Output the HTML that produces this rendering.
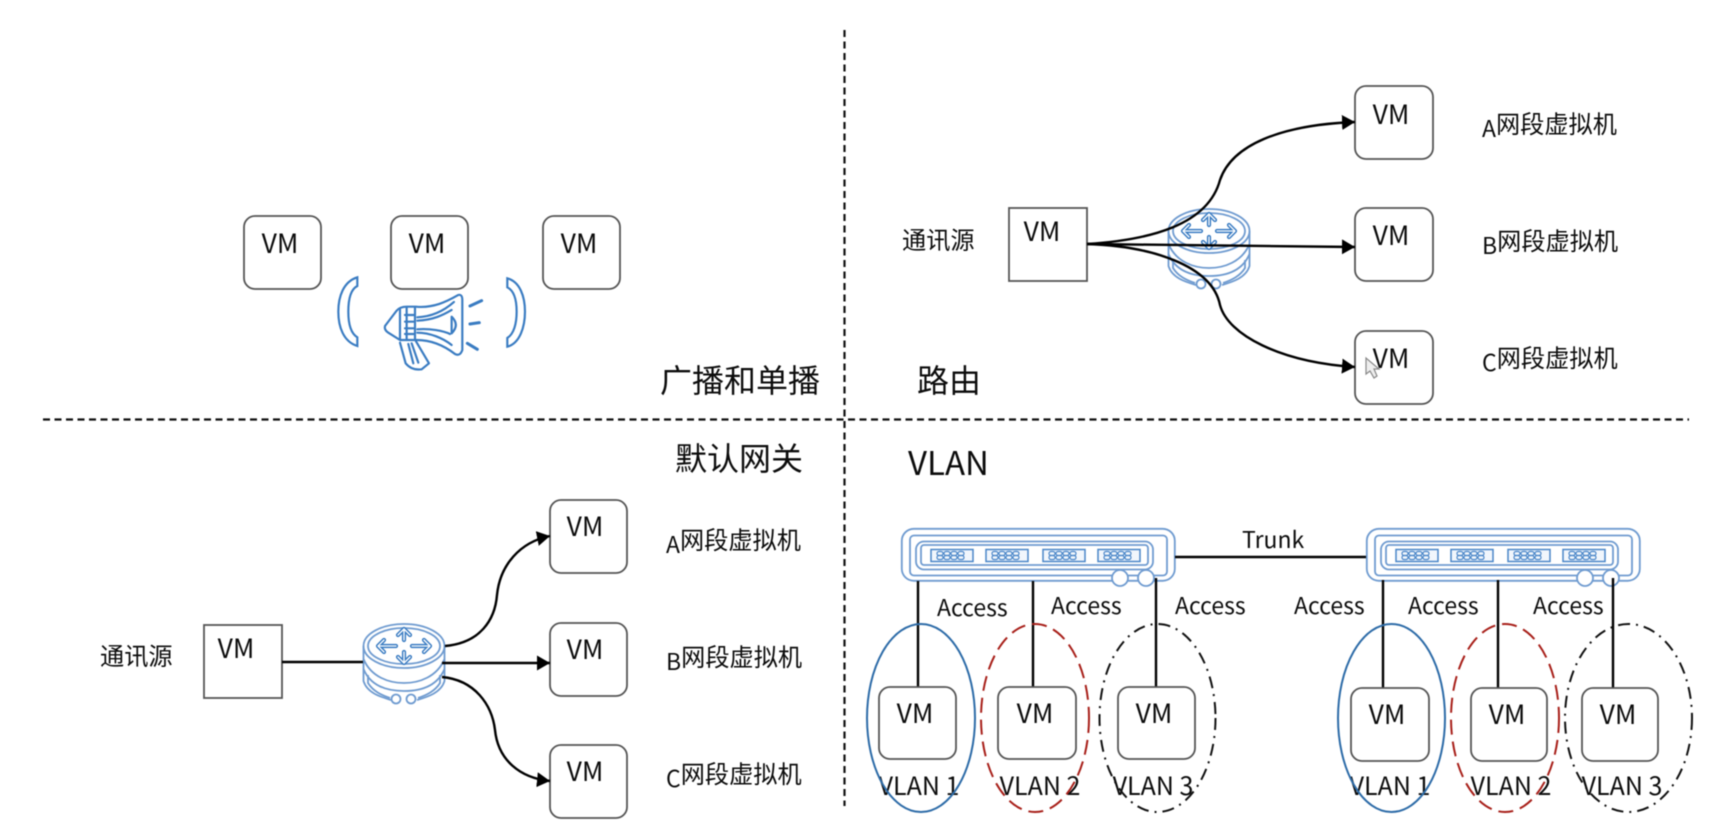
<!DOCTYPE html>
<html lang="zh">
<head>
<meta charset="utf-8">
<title>Network diagram</title>
<style>
html,body{margin:0;padding:0;background:#fff;width:1720px;height:833px;overflow:hidden}
svg{display:block;filter:blur(.5px)}
text{font-family:"Noto Sans CJK SC","Liberation Sans",sans-serif;fill:#0c0c0c}
.vm{font-size:26.5px;text-anchor:middle}
.cn{font-size:24.2px}
.big{font-size:32px}
.acc{font-size:23px}
.vl{font-size:25px;text-anchor:middle}
.box{fill:#fff;stroke:#555;stroke-width:1.8}
.conn{fill:none;stroke:#000;stroke-width:2.4}
.blue{fill:none;stroke:#6f9bd0;stroke-width:1.8}
.mega{fill:none;stroke:#3a7cc2;stroke-width:6.5;stroke-linejoin:round;stroke-linecap:round}
</style>
</head>
<body>
<svg width="1720" height="833" viewBox="0 0 1720 833" xmlns="http://www.w3.org/2000/svg">
<defs>
<marker id="ah" markerUnits="userSpaceOnUse" markerWidth="16" markerHeight="16" refX="13" refY="7.5" orient="auto">
<path d="M0 0L13 7.500L0 15z" fill="#000"/>
</marker>
<g id="rarrows" fill="none" stroke-linecap="round" stroke-linejoin="round">
<path d="M15 23H33M21 17L15 23L21 29M49 23H67M61 17L67 23L61 29M41 6V17M35 12L41 6L47 12M41 29V40M35 34L41 40L47 34"/>
</g>
<g id="router">
<ellipse cx="41" cy="23" rx="40.500" ry="22" class="blue"/>
<ellipse cx="41" cy="23" rx="36" ry="18" class="blue"/>
<path d="M.5 23V58C4 70 18 74 28 77M81.500 23V58C78 70 64 74 54 77" class="blue"/>
<path d="M.5 36C8 54 26 60 41 60S74 54 81.500 36" class="blue"/>
<path d="M.5 46C8 64 26 68 41 68S74 64 81.500 46" class="blue"/>
<path d="M5 52V60C10 68 18 72 27 75M77 52V60C72 68 64 72 55 75" class="blue"/>
<circle cx="33" cy="76" r="4.500" fill="#fff" stroke="#6f9bd0" stroke-width="1.800"/>
<circle cx="48" cy="76" r="4.500" fill="#fff" stroke="#6f9bd0" stroke-width="1.800"/>
<use href="#rarrows" stroke="#3a7cc2" stroke-width="4.200"/>
<use href="#rarrows" stroke="#fff" stroke-width="1.300"/>
</g>
<g id="pg">
<rect x="30" y="21.500" width="42" height="12" fill="#f1f6fc" stroke="#4a86c8" stroke-width="1.500"/>
<g fill="none" stroke="#4a86c8" stroke-width="1.200">
<rect x="36" y="23.500" width="6" height="4" rx="2"/><rect x="36" y="27.500" width="6" height="4" rx="2"/>
<rect x="43" y="23.500" width="6" height="4" rx="2"/><rect x="43" y="27.500" width="6" height="4" rx="2"/>
<rect x="50" y="23.500" width="6" height="4" rx="2"/><rect x="50" y="27.500" width="6" height="4" rx="2"/>
<rect x="57" y="23.500" width="6" height="4" rx="2"/><rect x="57" y="27.500" width="6" height="4" rx="2"/>
</g>
</g>
<g id="sw">
<rect x=".8" y=".8" width="273" height="52" rx="12" class="blue"/>
<rect x="9" y="7.500" width="257" height="40" rx="4" class="blue"/>
<rect x="15" y="13.500" width="237" height="28" rx="8" class="blue"/>
<rect x="20" y="17" width="227" height="20" rx="3" class="blue"/>
<use href="#pg"/>
<use href="#pg" x="55"/>
<use href="#pg" x="112"/>
<use href="#pg" x="167"/>
<circle cx="219" cy="50" r="8" fill="#fff" stroke="#6f9bd0" stroke-width="1.800"/>
<circle cx="245" cy="50" r="8" fill="#fff" stroke="#6f9bd0" stroke-width="1.800"/>
</g>
</defs>

<rect width="1720" height="833" fill="#fff"/>

<!-- dividers -->
<path d="M844.500 30V806" stroke="#111" stroke-width="2.200" stroke-dasharray="7 4.500" fill="none"/>
<path d="M43 419.500H1689" stroke="#111" stroke-width="2.200" stroke-dasharray="7 4.500" fill="none"/>

<!-- top-left -->
<rect x="244" y="216" width="77" height="73" rx="11" class="box"/>
<rect x="391" y="216" width="77" height="73" rx="11" class="box"/>
<rect x="543" y="216" width="77" height="73" rx="11" class="box"/>
<text x="280" y="253" class="vm">VM</text>
<text x="427" y="253" class="vm">VM</text>
<text x="579" y="253" class="vm">VM</text>
<g transform="translate(230 200) scale(.3333)">
<path d="M382 232C340 245 325 290 325 335S340 425 382 438V412C362 400 355 370 355 335S362 268 382 258Z" fill="#fff" stroke="#3a7cc2" stroke-width="6.500"/>
<path d="M832 235C870 245 885 290 885 335S870 430 832 440V414C852 402 860 370 860 335S852 272 832 262Z" fill="#fff" stroke="#3a7cc2" stroke-width="6.500"/>
<g class="mega">
<path d="M465 378L500 332Q510 320 530 320H558C610 325 650 305 685 285Q697 282 697 300V450Q690 470 675 462C640 435 600 420 560 420H510L475 398Q462 390 465 378Z"/>
<path d="M510 325V418M530 322V420M555 322V420"/>
<path d="M525 345H552M525 365H552M525 385H552M525 402H552"/>
<path d="M562 352C610 350 645 330 672 306M562 388C600 385 640 392 660 402M562 362C610 360 640 345 665 330M562 398C600 398 640 415 665 435"/>
<path d="M665 350Q690 375 665 400Z"/>
<path d="M510 428L527 490Q545 512 575 508L597 490L558 424"/>
<path d="M535 432L550 490M545 430L565 488"/>
<path d="M720 318L755 302M720 372L748 368M712 430L742 448" stroke-width="9"/>
</g>
</g>
<text x="660" y="392" class="big">广播和单播</text>

<!-- top-right -->
<text x="917" y="392" class="big">路由</text>
<use href="#router" x="1168" y="208"/>
<rect x="1009" y="208" width="78" height="73" class="box" style="fill:none"/>
<rect x="1355" y="86" width="78" height="73" rx="11" class="box"/>
<rect x="1355" y="208" width="78" height="73" rx="11" class="box"/>
<rect x="1355" y="331" width="78" height="73" rx="11" class="box"/>
<text x="1042" y="241" class="vm">VM</text>
<text x="1391" y="124" class="vm">VM</text>
<text x="1391" y="245" class="vm">VM</text>
<text x="1391" y="368" class="vm">VM</text>
<text x="902" y="249" class="cn">通讯源</text>
<text x="1482" y="137" class="cn"><tspan font-size="23">A</tspan><tspan dy="-4">网段虚拟机</tspan></text>
<text x="1482" y="254" class="cn"><tspan font-size="23">B</tspan><tspan dy="-4">网段虚拟机</tspan></text>
<text x="1482" y="371" class="cn"><tspan font-size="23">C</tspan><tspan dy="-4">网段虚拟机</tspan></text>
<path d="M1087 244C1150 240 1208 225 1220 180C1232 145 1280 125 1355 122" class="conn" marker-end="url(#ah)"/>
<path d="M1087 244L1355 247" class="conn" marker-end="url(#ah)"/>
<path d="M1087 244C1150 246 1212 265 1220 305C1228 335 1280 362 1355 367" class="conn" marker-end="url(#ah)"/>
<!-- cursor -->
<path d="M1366 358L1366 374L1370 371L1374 378L1377 376L1374 369L1379 369Z" fill="#eee" stroke="#888" stroke-width="1.200"/>

<!-- bottom-left -->
<text x="675" y="470" class="big">默认网关</text>
<rect x="204" y="625" width="78" height="73" class="box"/>
<rect x="550" y="500" width="77" height="73" rx="11" class="box"/>
<rect x="550" y="623" width="77" height="73" rx="11" class="box"/>
<rect x="550" y="745" width="77" height="73" rx="11" class="box"/>
<text x="236" y="658" class="vm">VM</text>
<text x="585" y="536" class="vm">VM</text>
<text x="585" y="659" class="vm">VM</text>
<text x="585" y="781" class="vm">VM</text>
<text x="100" y="665" class="cn">通讯源</text>
<text x="666" y="553" class="cn"><tspan font-size="23">A</tspan><tspan dy="-4">网段虚拟机</tspan></text>
<text x="666" y="670" class="cn"><tspan font-size="23">B</tspan><tspan dy="-4">网段虚拟机</tspan></text>
<text x="666" y="787" class="cn"><tspan font-size="23">C</tspan><tspan dy="-4">网段虚拟机</tspan></text>
<use href="#router" x="363" y="623"/>
<path d="M282 662H363" class="conn"/>
<path d="M445 646C480 643 495 620 497 595C500 565 520 542 550 536" class="conn" marker-end="url(#ah)"/>
<path d="M442 663H550" class="conn" marker-end="url(#ah)"/>
<path d="M442 677C475 680 492 705 495 730C498 760 520 778 550 781" class="conn" marker-end="url(#ah)"/>

<!-- VLAN -->
<text x="908" y="475" style="font-size:33px">VLAN</text>
<use href="#sw" x="901" y="528"/>
<use href="#sw" x="1366" y="528"/>
<path d="M1175 557H1366" class="conn"/>
<text x="1242" y="548" class="acc">Trunk</text>

<path d="M918 581V687M1033 581V687M1156 578V687M1383 580V688M1498 580V688M1613 578V688" class="conn"/>

<text x="937" y="616" class="acc">Access</text>
<text x="1051" y="614" class="acc">Access</text>
<text x="1175" y="614" class="acc">Access</text>
<text x="1294" y="614" class="acc">Access</text>
<text x="1408" y="614" class="acc">Access</text>
<text x="1533" y="614" class="acc">Access</text>

<rect x="879" y="687" width="77" height="72" rx="11" class="box"/>
<rect x="998" y="687" width="78" height="72" rx="11" class="box"/>
<rect x="1118" y="687" width="77" height="72" rx="11" class="box"/>
<rect x="1351" y="688" width="78" height="73" rx="11" class="box"/>
<rect x="1471" y="688" width="76" height="73" rx="11" class="box"/>
<rect x="1582" y="688" width="76" height="73" rx="11" class="box"/>
<text x="915" y="723" class="vm">VM</text>
<text x="1035" y="723" class="vm">VM</text>
<text x="1154" y="723" class="vm">VM</text>
<text x="1387" y="724" class="vm">VM</text>
<text x="1507" y="724" class="vm">VM</text>
<text x="1618" y="724" class="vm">VM</text>

<text x="919" y="795" class="vl">VLAN 1</text>
<text x="1040" y="795" class="vl">VLAN 2</text>
<text x="1153" y="795" class="vl">VLAN 3</text>
<text x="1390" y="795" class="vl">VLAN 1</text>
<text x="1511" y="795" class="vl">VLAN 2</text>
<text x="1622" y="795" class="vl">VLAN 3</text>

<ellipse cx="921" cy="718" rx="54" ry="94" fill="none" stroke="#2e6ca8" stroke-width="2"/>
<ellipse cx="1035" cy="718" rx="54" ry="94" fill="none" stroke="#a8201a" stroke-width="2" stroke-dasharray="15 7"/>
<ellipse cx="1157.500" cy="718" rx="58" ry="94" fill="none" stroke="#111" stroke-width="2" stroke-dasharray="12 6 2 6"/>
<ellipse cx="1391.500" cy="718" rx="53.500" ry="94" fill="none" stroke="#2e6ca8" stroke-width="2"/>
<ellipse cx="1505" cy="718" rx="54" ry="94" fill="none" stroke="#a8201a" stroke-width="2" stroke-dasharray="15 7"/>
<ellipse cx="1628.500" cy="718" rx="63.500" ry="94" fill="none" stroke="#111" stroke-width="2" stroke-dasharray="12 6 2 6"/>
</svg>
</body>
</html>
